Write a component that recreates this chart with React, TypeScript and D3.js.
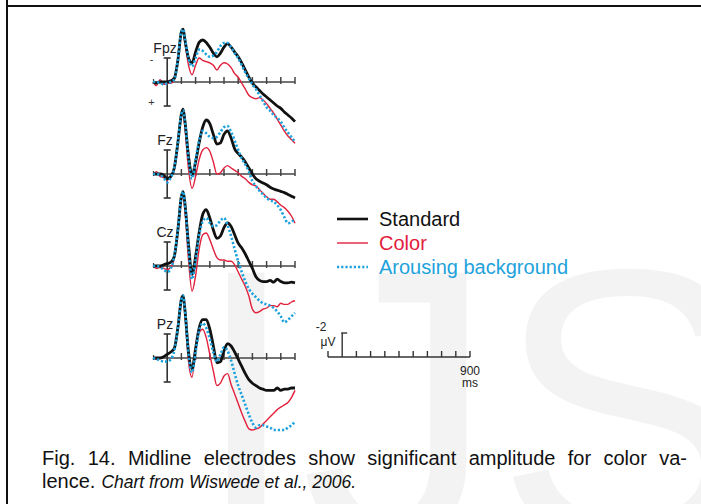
import React, { useEffect, useRef } from 'react';
import * as d3 from 'd3';

// time grid (ms) shared by every trace
const times = [-100, -75, -50, -25, 0, 25, 50, 75, 100, 112, 125, 150, 175, 200, 225, 250, 275, 300, 325, 350,
  375, 400, 425, 450, 475, 500, 525, 550, 575, 600, 625, 650, 675, 700, 725, 750, 775, 800, 825, 850, 875, 900];

const electrodes = ['Fpz', 'Fz', 'Cz', 'Pz'];
const seriesNames = ['Standard', 'Color', 'Arousing background'];

// amplitudes in µV (negative plotted upwards)
const fpzStandard = [0, 0.1, 0, 0, 0, -0.1, -0.3, -1.8, -4.2, -4.4, -3.5, -2.0, -1.6, -2.5, -3.3, -3.5, -3.3, -2.9, -2.4, -2.1,
  -2.4, -2.9, -3.2, -2.9, -2.5, -2.1, -1.6, -1.0, -0.4, 0.1, 0.4, 0.7, 1.0, 1.25, 1.5, 1.75, 2.0, 2.2, 2.5, 2.75, 3.0, 3.3];
const fpzColor = [0, 0.3, -0.2, 0.2, 0.1, 0.1, -0.2, -1.7, -4.0, -4.2, -3.3, -1.4, -0.6, -1.4, -2.0, -1.8, -1.7, -1.6, -1.4, -1.0,
  -1.4, -1.6, -1.5, -1.2, -0.7, -0.4, 0.1, 0.6, 1.1, 1.3, 1.4, 1.3, 1.5, 1.8, 2.2, 2.6, 3.1, 3.6, 4.1, 4.5, 4.8, 5.1];
const fpzArousing = [0, 0, 0.1, 0.2, 0.1, 0, -0.2, -1.8, -4.2, -4.4, -3.6, -2.0, -1.3, -2.0, -2.7, -2.6, -2.3, -2.1, -2.2, -2.5,
  -3.0, -3.25, -3.25, -2.9, -2.4, -2.0, -1.4, -0.8, -0.3, 0.2, 0.6, 1.1, 1.6, 2.1, 2.4, 2.75, 3.0, 3.3, 3.8, 4.2, 4.6, 5.0];

const fzStandard = [0, 0, 0, 0.1, 0.4, 0.2, -0.5, -2.6, -5.0, -5.4, -4.4, -1.5, 0.1, -1.0, -2.6, -3.9, -4.5, -4.2, -3.3, -2.5,
  -2.6, -3.3, -3.6, -3.0, -2.1, -1.7, -1.4, -1.0, -0.5, 0.0, 0.4, 0.6, 0.75, 0.9, 1.1, 1.25, 1.35, 1.45, 1.55, 1.7, 1.85, 2.0];
const fzColor = [0, -0.2, 0.2, 0.3, 0.5, 0.3, -0.4, -2.4, -4.8, -5.0, -3.8, -0.4, 1.2, 0.2, -1.2, -2.0, -2.2, -1.9, -1.0, 0,
  -0.1, -0.5, -0.7, -0.5, -0.3, -0.1, 0.2, 0.4, 0.7, 0.9, 1.0, 1.3, 1.6, 1.9, 2.1, 2.1, 2.3, 2.6, 2.8, 3.1, 3.5, 4.1];
const fzArousing = [0, 0, 0.1, 0.3, 0.7, 0.3, -0.5, -2.6, -5.0, -5.3, -4.4, -1.3, 0.4, -1.2, -2.8, -3.6, -3.4, -3.1, -3.0, -3.1,
  -3.5, -3.9, -4.0, -3.5, -2.8, -2.0, -1.3, -0.8, -0.2, 0.6, 1.0, 1.4, 1.7, 2.0, 2.2, 2.3, 2.6, 3.0, 3.6, 4.1, 4.0, 3.7];

const czStandard = [0, 0, 0, -0.1, -0.2, -0.3, -0.8, -3.0, -5.8, -6.2, -5.2, -1.8, 0.7, -0.8, -2.8, -4.3, -4.7, -4.0, -3.0, -2.3,
  -2.5, -3.2, -3.6, -3.3, -2.6, -1.9, -1.5, -1.0, -0.4, 0.2, 0.9, 1.2, 1.3, 1.3, 1.2, 1.35, 1.1, 1.3, 1.4, 1.4, 1.35, 1.4];
const czColor = [0, 0.2, 0.1, 0.2, 0.3, 0.1, -0.6, -2.8, -5.5, -5.8, -4.6, -0.5, 2.1, 0.8, -1.4, -2.6, -2.75, -2.2, -1.4, -0.7,
  -0.5, -0.5, -0.4, -0.4, -0.1, 0.5, 1.1, 1.7, 2.5, 3.6, 3.9, 3.8, 3.6, 3.5, 3.3, 3.3, 3.4, 3.1, 3.2, 3.2, 3.0, 2.9];
const czArousing = [0, 0, 0.1, 0.3, 0.5, 0.2, -0.8, -3.0, -5.8, -6.2, -5.2, -1.5, 1.1, -0.5, -2.6, -3.7, -4.0, -3.6, -3.3, -3.4,
  -3.8, -4.0, -3.4, -2.5, -1.4, -0.4, 0.5, 1.3, 1.9, 2.3, 2.6, 2.9, 3.1, 3.2, 3.3, 3.5, 3.8, 4.2, 4.7, 4.5, 4.2, 3.9];

const pzStandard = [0, 0, 0, -0.1, -0.3, -0.5, -0.8, -2.5, -4.9, -5.2, -4.0, -0.5, 0.9, -0.8, -2.5, -3.2, -3.2, -2.4, -1.0, 0.4,
  0.3, -0.6, -1.2, -1.0, -0.5, 0.1, 0.7, 1.3, 1.8, 2.1, 2.3, 2.5, 2.6, 2.7, 2.7, 2.7, 2.5, 2.7, 2.6, 2.6, 2.5, 2.5];
const pzColor = [0, 0.1, 0, -0.1, -0.3, -0.5, -0.8, -2.5, -4.9, -5.1, -3.6, 0.3, 1.6, -0.8, -2.1, -2.4, -1.7, -0.3, 1.1, 2.3,
  2.1, 1.5, 1.3, 2.2, 3.0, 3.8, 4.6, 5.3, 5.9, 6.0, 5.9, 5.8, 5.5, 5.2, 4.9, 4.6, 4.3, 4.1, 3.9, 3.7, 3.3, 2.7];
const pzArousing = [0, 0.1, 0.2, 0.3, 0.3, 0.1, -0.6, -2.5, -4.9, -5.2, -4.0, -0.3, 1.2, -0.5, -2.3, -2.9, -2.5, -1.6, -0.5, 0.3,
  -0.3, -0.9, -0.6, 0.2, 1.3, 2.3, 3.1, 3.9, 4.7, 5.4, 5.8, 5.6, 5.6, 5.7, 5.8, 6.0, 6.0, 6.0, 6.0, 5.8, 5.6, 5.3];

const panelData = [
  [fpzStandard, fpzColor, fpzArousing],
  [fzStandard, fzColor, fzArousing],
  [czStandard, czColor, czArousing],
  [pzStandard, pzColor, pzArousing],
];

const tickTimes = [100, 200, 300, 400, 500, 600, 700, 800, 900];
const scaleTicks = [-100, 100, 200, 300, 400, 500, 600, 700, 800, 900];

const captionLine1 = 'Fig. 14. Midline electrodes show significant amplitude for color va-';
const captionLine2 = 'lence.';
const captionSource = 'Chart from Wiswede et al., 2006.';

const FONT = '"Liberation Sans", Arial, Helvetica, sans-serif';
const colors = ['#111111', '#e2203c', '#1ea2dc'];

export default function App() {
  const capRef = useRef<SVGTextElement>(null);

  useEffect(() => {
    // justify the first caption line
    const el = capRef.current;
    if (!el) return;
    el.setAttribute('word-spacing', '0');
    const w = el.getComputedTextLength();
    const gaps = captionLine1.split(' ').length - 1;
    el.setAttribute('word-spacing', String((687 - 42 - w) / gaps));
  }, []);

  const x = d3.scaleLinear().domain([-100, 900]).range([153, 295]);
  const panelY = d3.scaleLinear().domain([0, 3]).range([82, 358]);
  const xLegend = d3.scaleLinear().domain([-100, 900]).range([328, 470]);
  const legendY = d3.scaleLinear().domain([0, -2]).range([357, 333]);

  const lineFor = (y: d3.ScaleLinear<number, number>) =>
    d3.line<number>()
      .x((_, i) => x(times[i]))
      .y(d => y(d))
      .curve(d3.curveMonotoneX);

  const drawOrder = [1, 0, 2];

  return (
    <svg width={701} height={504} style={{ position: 'absolute', left: 0, top: 0, background: '#fff' }}
      fontFamily={FONT}>
      {/* watermark */}
      <text x={192} y={541} fontSize={390} fill="#f3f3f3" fontFamily={FONT}>IJS</text>

      {/* frame */}
      <line x1={7} x2={701} y1={6} y2={6} stroke="#111" strokeWidth={2} />
      <line x1={7} x2={7} y1={0} y2={504} stroke="#111" strokeWidth={2} />

      {electrodes.map((name, p) => {
        const base = panelY(p);
        const y = d3.scaleLinear().domain([-5, 5]).range([base - 60, base + 60]);
        const line = lineFor(y);
        return (
          <g key={name}>
            <text x={165} y={base - 29} fontSize={14} textAnchor="middle" fill="#222">{name}</text>
            {/* axis */}
            <line x1={x(-100)} x2={x(900)} y1={base} y2={base} stroke="#444" strokeWidth={1.6} />
            {tickTimes.map(t => (
              <line key={t} x1={x(t)} x2={x(t)} y1={base - 5} y2={base + 2} stroke="#444" strokeWidth={1.5} />
            ))}
            <line x1={x(-100) + 0.5} x2={x(-100) + 0.5} y1={base - 3} y2={base + 2} stroke="#444" strokeWidth={1.2} />
            {/* amplitude bar */}
            <line x1={x(0)} x2={x(0)} y1={y(-2)} y2={y(2)} stroke="#333" strokeWidth={1.6} />
            <line x1={x(0) - 3.5} x2={x(0) + 3.5} y1={y(-2)} y2={y(-2)} stroke="#333" strokeWidth={1.6} />
            <line x1={x(0) - 3.5} x2={x(0) + 3.5} y1={y(2)} y2={y(2)} stroke="#333" strokeWidth={1.6} />
            {p === 0 && (
              <g fontSize={11} fill="#333" textAnchor="middle">
                <text x={151.5} y={63}>-</text>
                <text x={151.5} y={105.5}>+</text>
              </g>
            )}
            {drawOrder.map(s => (
              <path key={s} d={line(panelData[p][s]) || ''} fill="none" stroke={colors[s]}
                strokeWidth={s === 0 ? 2.8 : s === 1 ? 1.4 : 2.6}
                strokeDasharray={s === 2 ? '2.2 2' : undefined} />
            ))}
          </g>
        );
      })}

      {/* legend */}
      {seriesNames.map((name, i) => {
        const cy = 219 + i * 24;
        return (
          <g key={name}>
            <line x1={337} x2={368} y1={cy} y2={cy} stroke={colors[i]}
              strokeWidth={i === 0 ? 2.6 : i === 1 ? 1.4 : 2.4}
              strokeDasharray={i === 2 ? '2.2 2' : undefined} />
            <text x={379} y={cy + 7} fontSize={20} fill={i === 0 ? '#111' : colors[i]}>{name}</text>
          </g>
        );
      })}

      {/* scale bar */}
      <g stroke="#333" strokeWidth={1.4}>
        <line x1={xLegend(-100)} x2={xLegend(900)} y1={legendY(0)} y2={legendY(0)} />
        {scaleTicks.map(t => (
          <line key={t} x1={xLegend(t)} x2={xLegend(t)} y1={legendY(0) - 6} y2={legendY(0)} />
        ))}
        <line x1={xLegend(0)} x2={xLegend(0)} y1={legendY(-2)} y2={legendY(0)} />
        <line x1={xLegend(0) - 1} x2={xLegend(0) + 5} y1={legendY(-2)} y2={legendY(-2)} />
      </g>
      <g fontSize={12} fill="#222">
        <text x={321} y={331} textAnchor="middle">-2</text>
        <text x={328} y={346} textAnchor="middle">μV</text>
        <text x={470} y={375} textAnchor="middle">900</text>
        <text x={470} y={387} textAnchor="middle">ms</text>
      </g>

      {/* caption */}
      <text ref={capRef} x={42} y={465} fontSize={20} fill="#111">{captionLine1}</text>
      <text x={42} y={488} fontSize={20} fill="#111">
        {captionLine2}
        <tspan fontSize={17.5} fontStyle="italic" dx={6}>{captionSource}</tspan>
      </text>
    </svg>
  );
}
